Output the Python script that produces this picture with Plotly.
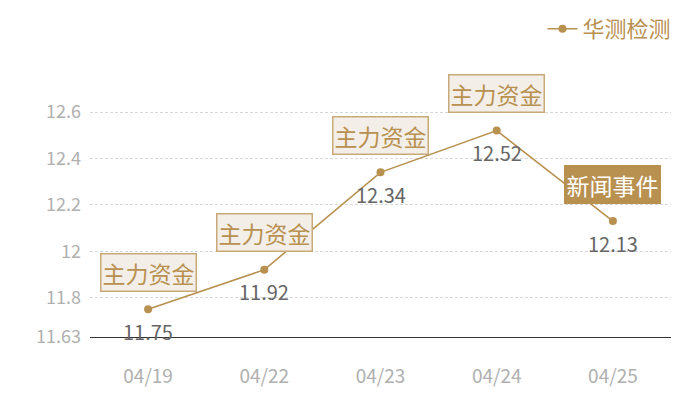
import plotly.graph_objects as go

# chart data
dates = ['04/19', '04/22', '04/23', '04/24', '04/25']
prices = [11.75, 11.92, 12.34, 12.52, 12.13]
event_labels = ['主力资金', '主力资金', '主力资金', '主力资金', '新闻事件']
highlight = [False, False, False, False, True]
y_ticks = [11.63, 11.8, 12, 12.2, 12.4, 12.6, 12.652]
y_tick_text = ['11.63', '11.8', '12', '12.2', '12.4', '12.6', '']

GOLD = '#b8904f'
FONT = 'Noto Sans CJK SC'

fig = go.Figure()

fig.add_trace(go.Scatter(
    x=dates,
    y=prices,
    mode='lines+markers',
    name='华测检测',
    line=dict(color=GOLD, width=1.6),
    marker=dict(color=GOLD, size=8),
    cliponaxis=False,
))

for d, p, label, hl in zip(dates, prices, event_labels, highlight):
    # value label under the point
    fig.add_annotation(
        x=d, y=p,
        text=f'{p:.2f}',
        showarrow=False,
        yshift=-22,
        font=dict(family=FONT, size=20, color='#666666'),
    )
    # event tag above the point
    fig.add_annotation(
        x=d, y=p,
        text=label,
        showarrow=False,
        yshift=37,
        font=dict(family=FONT, size=23, color='white' if hl else GOLD),
        bgcolor=GOLD if hl else '#f3efe8',
        bordercolor=GOLD if hl else '#c9a979',
        borderwidth=1.5,
        borderpad=1,
    )

# page body adds 8px, so margins are shifted to keep the plot where it belongs
fig.update_layout(
    width=700, height=400,
    margin=dict(l=82, r=37, t=92, b=71, autoexpand=False),
    plot_bgcolor='white',
    paper_bgcolor='white',
    font=dict(family=FONT),
    showlegend=True,
    legend=dict(
        orientation='h',
        xref='container', yref='container',
        x=0.955, xanchor='right',
        y=1.0, yanchor='top',
        font=dict(family=FONT, size=22, color=GOLD),
        bgcolor='rgba(0,0,0,0)',
    ),
)

fig.update_xaxes(
    type='category',
    range=[-0.5, len(dates) - 0.5],
    showline=True, linecolor='#333333', linewidth=1,
    showgrid=False,
    ticks='',
    ticklabelstandoff=22,
    tickfont=dict(family=FONT, size=19, color='#b0b0b0'),
)

fig.update_yaxes(
    range=[11.63, 12.652],
    tickvals=y_ticks,
    ticktext=y_tick_text,
    showgrid=True, gridcolor='#d8d8d8', griddash='3px,2px', gridwidth=1,
    zeroline=False,
    showline=False,
    ticklabelstandoff=8,
    tickfont=dict(family=FONT, size=18, color='#b0b0b0'),
)

fig.write_html('out.html')
